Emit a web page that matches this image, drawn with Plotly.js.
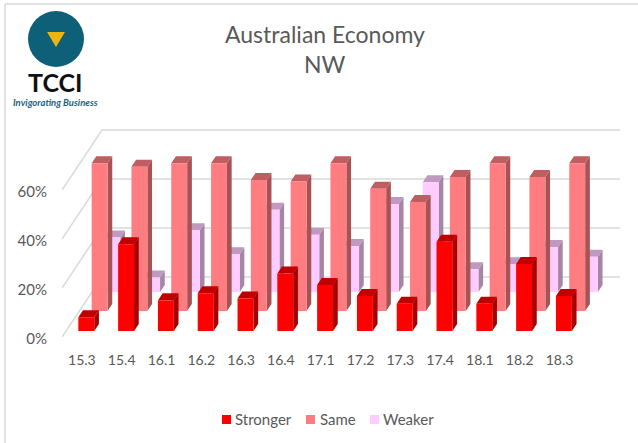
<!DOCTYPE html>
<html><head><meta charset="utf-8">
<script src="https://cdn.plot.ly/plotly-3.0.1.min.js"></script>
<style>html,body{margin:0;padding:0;background:#fff}</style></head>
<body><div id="chart" style="width:638px;height:443px"></div>
<script>
const categories=["15.3","15.4","16.1","16.2","16.3","16.4","17.1","17.2","17.3","17.4","18.1","18.2","18.3"];
const stronger=[5.6,35.4,12.5,15.4,13.3,23.5,18.8,14.3,11.1,36.4,11.1,27.3,14.3];
const same=[60.3,58.9,60.3,60.3,53.5,52.9,60.3,49.9,44.5,54.7,60.3,54.7,60.3];
const weaker=[22.2,5.9,25.2,15.4,33.6,23.4,18.8,35.9,44.8,9.3,11.3,18.4,14.4];
const gridValues=[0,20,40,60];
const gridLabels=["0%","20%","40%","60%"];

const W=638,H=443,ml=62,mr=18,mt=125,mb=98;
const pxX=39.8,pxY=2.45;
const xMin=-0.5,xMax=xMin+(W-ml-mr)/pxX;
const yMin=-(H-mb-337)/pxY,yMax=(337-mt)/pxY;
const depthX=40/pxX,depthY=60/pxY;
const halfW=0.2,barD=0.117;
const px=x=>(x-ml)/(W-ml-mr), py=y=>1-(y-mt)/(H-mt-mb);

function project(x,v,d){return [x+d*depthX+0.01,v+d*depthY];}
function faces(vals,d,name,cols){
  const mk=()=>({x:[],y:[]});
  const front=mk(),top=mk(),side=mk();
  const add=(o,pts)=>{pts.forEach(p=>{o.x.push(p[0]);o.y.push(p[1]);});o.x.push(null);o.y.push(null);};
  vals.forEach((v,i)=>{
    const a=i-halfW,b=i+halfW,d2=d+barD;
    add(front,[project(a,0,d),project(b,0,d),project(b,v,d),project(a,v,d),project(a,0,d)]);
    add(top,[project(a,v,d),project(b,v,d),project(b,v,d2),project(a,v,d2),project(a,v,d)]);
    add(side,[project(b,0,d),project(b,0,d2),project(b,v,d2),project(b,v,d),project(b,0,d)]);
  });
  const t=(o,c,n)=>({x:o.x,y:o.y,type:'scatter',mode:'lines',fill:'toself',fillcolor:c,line:{width:0,color:c},hoverinfo:'skip',showlegend:false,name:n});
  return [t(side,cols[2],name+' side'),t(top,cols[1],name+' top'),t(front,cols[0],name)];
}
const gridTraces=gridValues.map(g=>({
  x:[xMin,xMin+depthX,xMax],y:[g,g+depthY,g+depthY],type:'scatter',mode:'lines',
  line:{color:'#d9d9d9',width:1.5},hoverinfo:'skip',showlegend:false,name:g+'%'
}));
const data=[...gridTraces,
  ...faces(weaker,0.75,'Weaker',['#ffccff','#bf99bf','#a685a6']),
  ...faces(same,0.433,'Same',['#ff7c80','#bf5d60','#a65355']),
  ...faces(stronger,0.1,'Stronger',['#ff0000','#c00000','#a60000'])];

const legendItems=[["Stronger","#ff0000",222,233],["Same","#ff7c80",306,318],["Weaker","#ffccff",370,381]];
const shapes=[
  {type:'line',xref:'paper',yref:'paper',x0:px(5),x1:px(5),y0:py(443),y1:py(4),line:{color:'#d9d9d9',width:1.5},layer:'below'},
  {type:'line',xref:'paper',yref:'paper',x0:px(5),x1:px(638),y0:py(4),y1:py(4),line:{color:'#d9d9d9',width:1.5},layer:'below'},
  {type:'circle',xref:'paper',yref:'paper',x0:px(28),x1:px(84),y0:py(67),y1:py(11),line:{width:0},fillcolor:'#0e5f78'},
  {type:'path',xref:'paper',yref:'paper',path:`M${px(47)} ${py(32)} L${px(65)} ${py(32)} L${px(56)} ${py(47)} Z`,line:{width:0},fillcolor:'#f0b410'},
  ...legendItems.map(l=>({type:'rect',xref:'paper',yref:'paper',x0:px(l[2]),x1:px(l[2]+9),y0:py(424),y1:py(415),line:{width:0},fillcolor:l[1]}))
];
const ann=(text,x,y,size,color,extra)=>Object.assign({text,xref:'paper',yref:'paper',x:px(x),y:py(y),showarrow:false,
  font:{family:'Lato, sans-serif',size,color},xanchor:'center',yanchor:'middle'},extra||{});
const annotations=[
  ann('Australian Economy',325,34,23,'#595959'),
  ann('NW',325,64,23,'#595959'),
  ann('<b>TCCI</b>',55.5,81.5,25,'#111111',{borderpad:0}),
  ann('<b><i>Invigorating Business</i></b>',55.5,102,9.5,'#1d5f7e',{borderpad:0}),
  ...legendItems.map(l=>ann(l[0],l[3],419,15,'#595959',{xanchor:'left'}))
];
const layout={
  width:W,height:H,margin:{l:ml,r:mr,t:mt,b:mb},paper_bgcolor:'#fff',plot_bgcolor:'rgba(0,0,0,0)',showlegend:false,
  font:{family:'Lato, sans-serif',color:'#595959',size:14},
  xaxis:{range:[xMin,xMax],tickmode:'array',tickvals:categories.map((c,i)=>i),ticktext:categories,showgrid:false,zeroline:false,showline:false,ticks:'outside',ticklen:2,tickcolor:'rgba(0,0,0,0)',tickfont:{size:14,color:'#595959'}},
  yaxis:{range:[yMin,yMax],tickmode:'array',tickvals:gridValues,ticktext:gridLabels,ticklabelshift:2,showgrid:false,zeroline:false,showline:false,ticks:'outside',ticklen:11,tickcolor:'rgba(0,0,0,0)',tickfont:{size:15,color:'#595959'}},
  shapes,annotations
};
Plotly.newPlot('chart',data,layout,{displayModeBar:false,staticPlot:true});
</script></body></html>
